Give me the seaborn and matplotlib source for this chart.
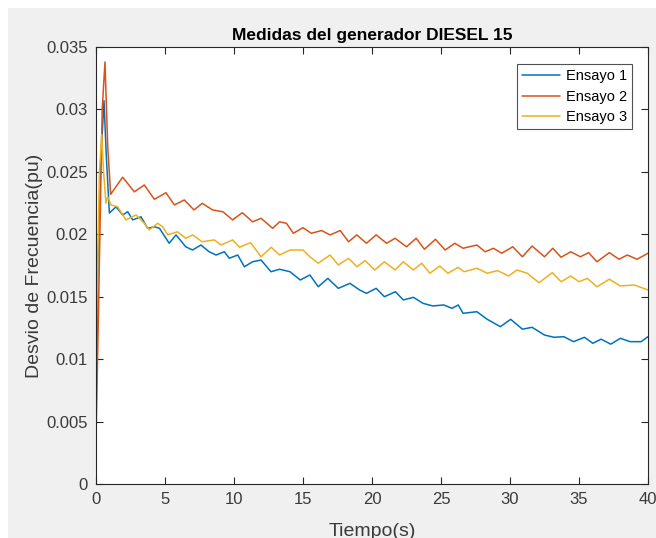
import matplotlib
matplotlib.use("Agg")
import matplotlib.pyplot as plt
from matplotlib.patches import Rectangle
import numpy as np
import pandas as pd
import seaborn as sns

# Frequency deviation (pu) of the diesel generator over time for three runs
ensayo1_t = [0, 0.15, 0.35, 0.58, 0.75, 0.97,
             1.45, 1.93, 2.3, 2.66, 3.26, 3.74, 4.23, 4.6, 5.07, 5.3,
             5.8, 6.5, 7.0, 7.6, 8.2, 8.7, 9.3, 9.66, 10.27, 10.75,
             11.35, 11.96, 12.68, 13.3, 14.06, 14.8, 15.5, 16.1, 16.8, 17.56,
             18.4, 19.1, 19.6, 20.3, 20.9, 21.7, 22.27, 23.0, 23.7, 24.4,
             25.2, 25.8, 26.25, 26.6, 27.6, 28.35, 29.3, 30.05, 30.9, 31.6,
             32.5, 33.2, 33.9, 34.6, 35.4, 36.0, 36.6, 37.3, 38.0, 38.7,
             39.5, 40.0]
ensayo1_v = [0.0050, 0.0180, 0.0260, 0.0307, 0.0262, 0.0217,
             0.0222, 0.02155, 0.0218, 0.02115, 0.0214, 0.02048, 0.0206, 0.02048, 0.01968, 0.01928,
             0.01995, 0.0190, 0.01874, 0.01914, 0.0186, 0.01834, 0.0186, 0.01808, 0.01834, 0.0174,
             0.0178, 0.01794, 0.0170, 0.0172, 0.0170, 0.01634, 0.01674, 0.0158, 0.01647, 0.01567,
             0.01607, 0.01554, 0.01527, 0.01567, 0.0150, 0.0154, 0.01474, 0.01495, 0.01447, 0.01426,
             0.01434, 0.01407, 0.01434, 0.01367, 0.0138, 0.01319, 0.0126, 0.01319, 0.0124, 0.01255,
             0.01193, 0.01175, 0.0118, 0.0114, 0.01175, 0.01127, 0.0116, 0.0112, 0.01167, 0.0114,
             0.0114, 0.0118]

ensayo2_t = [0, 0.2, 0.45, 0.65, 0.85, 1.06,
             1.93, 2.78, 3.5, 4.23, 5.07, 5.68, 6.4, 7.1, 7.7, 8.45,
             9.2, 9.9, 10.6, 11.35, 11.96, 12.8, 13.3, 13.8, 14.3, 15.0,
             15.6, 16.35, 16.96, 17.7, 18.3, 18.9, 19.6, 20.3, 21.06, 21.67,
             22.5, 23.2, 23.8, 24.6, 25.3, 26.0, 26.6, 27.6, 28.2, 28.8,
             29.4, 30.2, 30.9, 31.6, 32.5, 33.1, 33.7, 34.4, 35.1, 35.7,
             36.3, 37.2, 37.9, 38.5, 39.2, 40.0]
ensayo2_v = [0.0037, 0.0150, 0.0300, 0.0338, 0.0270, 0.0232,
             0.02457, 0.0234, 0.02395, 0.0228, 0.02333, 0.02235, 0.02275, 0.02195, 0.02248, 0.02195,
             0.0218, 0.02115, 0.02173, 0.0210, 0.02128, 0.02048, 0.0210, 0.02088, 0.02008, 0.02053,
             0.02008, 0.0203, 0.01995, 0.0203, 0.0194, 0.01995, 0.01928, 0.01995, 0.01928, 0.01968,
             0.0190, 0.01968, 0.0188, 0.0196, 0.01874, 0.01928, 0.01888, 0.01914, 0.0186, 0.01888,
             0.01848, 0.0190, 0.0182, 0.01906, 0.0182, 0.01888, 0.01816, 0.0186, 0.0182, 0.01853,
             0.0178, 0.01853, 0.0180, 0.01834, 0.0180, 0.01848]

ensayo3_t = [0, 0.1, 0.25, 0.41, 0.55, 0.72, 0.85,
             1.08, 1.57, 2.17, 2.9, 3.5, 3.86, 4.47, 4.83, 5.2, 5.9,
             6.5, 7.0, 7.7, 8.57, 9.06, 9.9, 10.4, 11.2, 11.96, 12.7,
             13.3, 14.06, 15.0, 15.5, 16.1, 16.96, 17.56, 18.3, 18.9, 19.5,
             20.2, 20.9, 21.67, 22.27, 23.0, 23.6, 24.2, 24.9, 25.5, 26.25,
             26.67, 27.6, 28.35, 29.1, 29.9, 30.5, 31.25, 32.1, 33.07, 33.7,
             34.4, 35.0, 35.6, 36.3, 37.2, 38.0, 39.0, 40.0]
ensayo3_v = [0.0115, 0.0160, 0.0250, 0.0280, 0.0250, 0.0225, 0.0230,
             0.02235, 0.0222, 0.02115, 0.02155, 0.02088, 0.02035, 0.02088, 0.0206, 0.01995, 0.0202,
             0.01968, 0.01995, 0.0194, 0.01955, 0.01914, 0.01955, 0.01896, 0.01933, 0.0182, 0.01896,
             0.01834, 0.01874, 0.01874, 0.0182, 0.01768, 0.01834, 0.01754, 0.01808, 0.0174, 0.01789,
             0.01714, 0.0178, 0.01714, 0.0178, 0.01714, 0.01768, 0.01688, 0.01746, 0.01688, 0.01735,
             0.0170, 0.01728, 0.01688, 0.01709, 0.01666, 0.01714, 0.01688, 0.01612, 0.01693, 0.0162,
             0.01666, 0.0162, 0.01647, 0.0158, 0.0164, 0.01586, 0.01594, 0.01554]

series_names = ["Ensayo 1", "Ensayo 2", "Ensayo 3"]
series_colors = ["#0072BD", "#D95319", "#EDB120"]
x_ticks = [0, 5, 10, 15, 20, 25, 30, 35, 40]
y_ticks = [0, 0.005, 0.01, 0.015, 0.02, 0.025, 0.03, 0.035]
y_tick_labels = ["0", "0.005", "0.01", "0.015", "0.02", "0.025", "0.03", "0.035"]

frames = []
for name, t, v in zip(series_names,
                      [ensayo1_t, ensayo2_t, ensayo3_t],
                      [ensayo1_v, ensayo2_v, ensayo3_v]):
    frames.append(pd.DataFrame({"Tiempo": t, "Desvio": v, "Ensayo": name}))
df = pd.concat(frames, ignore_index=True)

sns.set_style("ticks")
plt.rcParams["font.family"] = ["Liberation Sans", "DejaVu Sans"]
ink = "#262626"

W, H = 656, 538
fig = plt.figure(figsize=(W / 100, H / 100), dpi=100, facecolor="white")
# grey window area behind the axes
fig.add_artist(Rectangle((8 / W, 0), 1, 1 - 8 / H, transform=fig.transFigure,
                         facecolor="#f0f0f0", edgecolor="none", zorder=-10))

ax = fig.add_axes([96 / W, 1 - 484 / H, 552 / W, 437 / H])
ax.set_facecolor("white")

sns.lineplot(data=df, x="Tiempo", y="Desvio", hue="Ensayo",
             palette=dict(zip(series_names, series_colors)),
             estimator=None, sort=False, linewidth=1.1, ax=ax)

ax.set_xlim(0, 40)
ax.set_ylim(0, 0.035)
ax.set_xticks(x_ticks)
ax.set_yticks(y_ticks)
ax.set_yticklabels(y_tick_labels)

for s in ax.spines.values():
    s.set_visible(True)
    s.set_color(ink)
    s.set_linewidth(0.8)
ax.tick_params(axis="both", which="both", direction="in", length=5, width=0.8,
               color=ink, labelcolor="#3a3a3a", labelsize=12,
               top=True, right=True, pad=6)

ax.set_title("Medidas del generador DIESEL 15", fontsize=12.5, fontweight="bold",
             color="black", pad=5)
ax.set_xlabel("Tiempo(s)", fontsize=14, color="#3a3a3a", labelpad=11)
ax.set_ylabel("Desvio de Frecuencia(pu)", fontsize=14, color="#3a3a3a", labelpad=2)

handles, labels = ax.get_legend_handles_labels()
leg = ax.legend(handles, labels, loc="upper right",
                bbox_to_anchor=(632 / W, 1 - 64 / H), bbox_transform=fig.transFigure,
                borderaxespad=0, fontsize=10.5, frameon=True, fancybox=False,
                handlelength=2.6, handletextpad=0.4, labelspacing=0.45,
                borderpad=0.35)
leg.get_frame().set_edgecolor(ink)
leg.get_frame().set_linewidth(0.8)
for line in leg.get_lines():
    line.set_linewidth(1.1)
for txt in leg.get_texts():
    txt.set_color("black")

fig.savefig("out.png", dpi=100, facecolor=fig.get_facecolor())
